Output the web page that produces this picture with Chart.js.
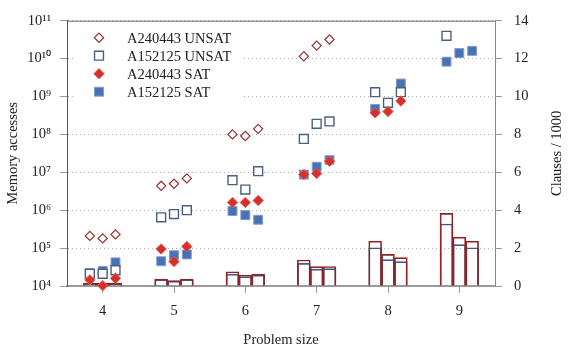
<!DOCTYPE html>
<html>
<head>
<meta charset="utf-8">
<script src="https://cdn.jsdelivr.net/npm/chart.js@4.4.0/dist/chart.umd.min.js"></script>
<style>
  html, body { margin: 0; padding: 0; background: #fff; }
  #wrap { width: 579px; height: 350px; position: relative; }
</style>
</head>
<body>
<div id="wrap"><canvas id="chart"></canvas></div>
<script>
// problem sizes on the x axis, three instances per size
const sizes = [4, 5, 6, 7, 8, 9];

// memory accesses (one row per problem size, three instances each)
const unsatA240443 = [
    [2.1e5, 1.8e5, 2.3e5],
    [4.4e6, 5.0e6, 6.9e6],
    [1.0e8, 9.1e7, 1.4e8],
    [1.15e10, 2.2e10, 3.2e10],
    [null, null, null],
    [null, null, null]
];
const unsatA152125 = [
    [2.1e4, 2.1e4, 2.6e4],
    [6.5e5, 7.9e5, 1.0e6],
    [6.2e6, 3.5e6, 1.07e7],
    [7.6e7, 1.9e8, 2.2e8],
    [1.3e9, 6.8e8, 1.3e9],
    [4.0e10, null, null]
];
const satA240443 = [
    [1.45e4, 1.02e4, 1.6e4],
    [9.5e4, 4.4e4, 1.1e5],
    [1.6e6, 1.6e6, 1.8e6],
    [8.7e6, 9.3e6, 1.95e7],
    [3.7e8, 4.0e8, 7.6e8],
    [null, null, null]
];
const satA152125 = [
    [2.2e4, 2.5e4, 4.2e4],
    [4.5e4, 6.5e4, 6.8e4],
    [9.5e5, 7.4e5, 5.6e5],
    [8.7e6, 1.4e7, 2.1e7],
    [4.7e8, 6.8e8, 2.2e9],
    [8.3e9, 1.4e10, 1.6e10]
];

// clauses / 1000
const clausesA240443 = [
    [0.15, 0.15, 0.15],
    [0.37, 0.28, 0.37],
    [0.75, 0.57, 0.63],
    [1.37, 1.02, 1.03],
    [2.37, 1.67, 1.50],
    [3.83, 2.58, 2.37]
];
const clausesA152125 = [
    [0.12, 0.12, 0.12],
    [0.33, 0.25, 0.33],
    [0.63, 0.49, 0.57],
    [1.19, 0.89, 0.92],
    [2.02, 1.39, 1.29],
    [3.27, 2.18, 2.02]
];

const leftExponents = [4, 5, 6, 7, 8, 9, 10, 11];
const rightTicks = [0, 2, 4, 6, 8, 10, 12, 14];
const rightTitle = 'Clauses / 1000';

const spread = 0.18; // distance between the three instances of one size
const SUP = '⁰¹²³⁴⁵⁶⁷⁸⁹';
const supText = n => String(n).split('').map(c => SUP[+c]).join('');

const toPoints = rows => {
    const pts = [];
    rows.forEach((row, i) => {
        row.forEach((v, j) => {
            if (v !== null) pts.push({ x: sizes[i] + (j - 1) * spread, y: v });
        });
    });
    return pts;
};

const FONT = "'Liberation Serif', 'Times New Roman', serif";
Chart.defaults.font.family = FONT;
Chart.defaults.font.size = 14.5;
Chart.defaults.color = '#222';

// legend drawn inside the plot, top left, on a white box
const insideLegend = {
    id: 'insideLegend',
    afterDatasetsDraw(chart) {
        const ctx = chart.ctx;
        const area = chart.chartArea;
        const items = chart.data.datasets.filter(d => d.type === 'scatter');
        ctx.save();
        ctx.fillStyle = '#fff';
        ctx.fillRect(area.left + 6, area.top + 4, 170, 80);
        items.forEach((d, i) => {
            const x = area.left + 32;
            const y = area.top + 17 + i * 18;
            ctx.fillStyle = d.pointBackgroundColor;
            ctx.strokeStyle = d.pointBorderColor;
            ctx.lineWidth = d.pointBorderWidth;
            Chart.helpers.drawPoint(ctx, {
                pointStyle: d.pointStyle,
                radius: d.pointRadius,
                borderWidth: d.pointBorderWidth,
                rotation: 0
            }, x, y);
            ctx.fillStyle = '#222';
            ctx.font = '14.5px ' + FONT;
            ctx.textBaseline = 'middle';
            ctx.textAlign = 'left';
            ctx.fillText(d.label, area.left + 60, y + 1);
        });
        ctx.restore();
    }
};

// top edge of the frame, and the right axis title read bottom to top
const frameExtras = {
    id: 'frameExtras',
    afterDraw(chart) {
        const ctx = chart.ctx;
        const area = chart.chartArea;
        ctx.save();
        ctx.strokeStyle = '#666';
        ctx.lineWidth = 1;
        ctx.beginPath();
        ctx.moveTo(area.left, area.top + 0.5);
        ctx.lineTo(area.right, area.top + 0.5);
        ctx.stroke();

        const s = chart.scales.y2;
        ctx.translate(s.right - 22, (area.top + area.bottom) / 2);
        ctx.rotate(-Math.PI / 2);
        ctx.fillStyle = '#222';
        ctx.font = '14.5px ' + FONT;
        ctx.textAlign = 'center';
        ctx.textBaseline = 'middle';
        ctx.fillText(rightTitle, 0, 0);
        ctx.restore();
    }
};

const scatterSet = (label, rows, style, fill, stroke, radius, bw, order) => ({
    type: 'scatter',
    label: label,
    data: toPoints(rows),
    yAxisID: 'y',
    pointStyle: style,
    pointRadius: radius,
    pointHoverRadius: radius,
    pointBackgroundColor: fill,
    pointBorderColor: stroke,
    pointBorderWidth: bw,
    clip: false,
    order: order
});

const barSet = (label, rows, color, order) => ({
    type: 'bar',
    label: label,
    data: toPoints(rows),
    yAxisID: 'y2',
    backgroundColor: 'rgba(255,255,255,0)',
    borderColor: color,
    borderWidth: 1,
    grouped: false,
    barPercentage: 1,
    categoryPercentage: 1,
    order: order
});

new Chart(document.getElementById('chart'), {
    type: 'scatter',
    data: {
        datasets: [
            scatterSet('A240443 UNSAT', unsatA240443, 'rectRot', '#ffffff', '#9a3030', 4.6, 1.2, 2),
            scatterSet('A152125 UNSAT', unsatA152125, 'rect', '#ffffff', '#4d5f80', 6.3, 1.4, 3),
            scatterSet('A240443 SAT', satA240443, 'rectRot', '#d7302a', '#e0605a', 5.2, 1, 1),
            scatterSet('A152125 SAT', satA152125, 'rect', '#4773b6', '#7f9ccb', 6.3, 1, 4),
            barSet('A152125 clauses', clausesA152125, '#3d5a8a', 6),
            barSet('A240443 clauses', clausesA240443, '#8e2424', 5)
        ]
    },
    options: {
        responsive: true,
        maintainAspectRatio: false,
        animation: false,
        layout: { padding: { top: 18, left: 0, right: 0, bottom: 0 } },
        plugins: {
            legend: { display: false },
            tooltip: { enabled: false }
        },
        scales: {
            x: {
                type: 'linear',
                position: 'bottom',
                min: 3.5,
                max: 9.5,
                offset: false,
                afterBuildTicks: s => { s.ticks = sizes.map(v => ({ value: v })); },
                ticks: { padding: 9, color: '#222' },
                grid: { offset: false, drawOnChartArea: false, drawTicks: true, tickLength: 7, tickColor: '#999' },
                border: { color: '#9a9a9a', width: 2 },
                title: { display: true, text: 'Problem size', color: '#222', padding: { top: 0, bottom: 1 } },
                afterFit: s => { s.height = 64; }
            },
            y: {
                type: 'logarithmic',
                position: 'left',
                min: 1e4,
                max: 1e11,
                afterBuildTicks: s => { s.ticks = leftExponents.map(e => ({ value: Math.pow(10, e) })); },
                ticks: {
                    padding: 9,
                    color: '#222',
                    callback: v => '10' + supText(Math.round(Math.log10(v)))
                },
                grid: { color: '#b0b0b0', lineWidth: 1, drawTicks: true, tickLength: 7, tickColor: '#999' },
                border: { color: '#555', width: 1, dash: [1, 3] },
                title: { display: true, text: 'Memory accesses', color: '#222', padding: { top: 4, bottom: 0 } },
                afterFit: s => { s.width = 67; }
            },
            y2: {
                type: 'linear',
                position: 'right',
                min: 0,
                max: 14,
                afterBuildTicks: s => { s.ticks = rightTicks.map(v => ({ value: v })); },
                ticks: { padding: 12, color: '#222' },
                grid: { drawOnChartArea: false, drawTicks: true, tickLength: 7, tickColor: '#999' },
                border: { color: '#888', width: 1 },
                title: { display: false },
                afterFit: s => { s.width = 84; }
            }
        }
    },
    plugins: [insideLegend, frameExtras]
});
</script>
</body>
</html>
